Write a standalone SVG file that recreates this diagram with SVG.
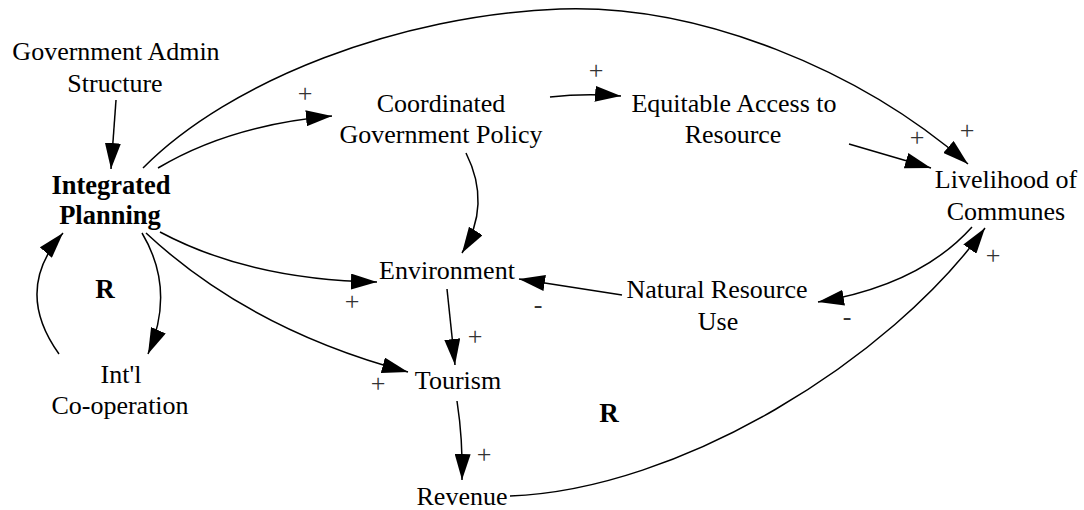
<svg xmlns="http://www.w3.org/2000/svg" width="1084" height="510" viewBox="0 0 1084 510">
<defs>
<marker id="ah" markerUnits="userSpaceOnUse" markerWidth="27" markerHeight="16" refX="26" refY="8" orient="auto" viewBox="0 0 27 16">
<path d="M0,0 L26,8 L0,16 z" fill="#000"/>
</marker>
<style>
.c{fill:none;stroke:#000;stroke-width:1.5;marker-end:url(#ah)}
</style>
</defs>
<rect width="1084" height="510" fill="#fff"/>
<g id="connectors">
<path class="c" d="M116,100 L111,169"/>
<path class="c" d="M158,168 Q230,125 332,116"/>
<path class="c" d="M143,168 C230,80 400,15 560,9 C700,4 860,70 968,164"/>
<path class="c" d="M550,97 Q585,93 621,96"/>
<path class="c" d="M849,144 L931,168"/>
<path class="c" d="M466,153 Q492,205 462,253"/>
<path class="c" d="M160,232 Q250,280 377,282"/>
<path class="c" d="M146,233 Q250,330 408,372"/>
<path class="c" d="M142,233 Q176,290 148,354"/>
<path class="c" d="M59,354 Q13,290 63,233"/>
<path class="c" d="M622,295 L519,279"/>
<path class="c" d="M972,227 Q920,285 818,302"/>
<path class="c" d="M510,496 C680,490 890,360 985,228"/>
<path class="c" d="M447,289 L455,365"/>
<path class="c" d="M457,401 Q463,440 462,480"/>
</g>
<g id="gov-admin"><text x="116" y="60" text-anchor="middle" style="font-family:Liberation Serif,serif !important;font-size:26px">Government Admin</text><text x="115" y="92" text-anchor="middle" style="font-family:Liberation Serif,serif !important;font-size:26px">Structure</text></g>
<g id="integrated-planning"><text x="111" y="194" text-anchor="middle" style="font-family:Liberation Serif,serif !important;font-size:26.5px;font-weight:bold">Integrated</text><text x="110" y="224" text-anchor="middle" style="font-family:Liberation Serif,serif !important;font-size:26.5px;font-weight:bold">Planning</text></g>
<g id="coordinated-policy"><text x="441" y="112" text-anchor="middle" style="font-family:Liberation Serif,serif !important;font-size:26px">Coordinated</text><text x="441" y="143" text-anchor="middle" style="font-family:Liberation Serif,serif !important;font-size:26px">Government Policy</text></g>
<g id="equitable-access"><text x="734" y="112" text-anchor="middle" style="font-family:Liberation Serif,serif !important;font-size:26px">Equitable Access to</text><text x="733" y="143" text-anchor="middle" style="font-family:Liberation Serif,serif !important;font-size:26px">Resource</text></g>
<g id="livelihood"><text x="1006" y="188" text-anchor="middle" style="font-family:Liberation Serif,serif !important;font-size:26px">Livelihood of</text><text x="1006" y="220" text-anchor="middle" style="font-family:Liberation Serif,serif !important;font-size:26px">Communes</text></g>
<g id="environment"><text x="447" y="279" text-anchor="middle" style="font-family:Liberation Serif,serif !important;font-size:26px">Environment</text></g>
<g id="natural-resource"><text x="717" y="298" text-anchor="middle" style="font-family:Liberation Serif,serif !important;font-size:26px">Natural Resource</text><text x="718" y="330" text-anchor="middle" style="font-family:Liberation Serif,serif !important;font-size:26px">Use</text></g>
<g id="tourism"><text x="458" y="389" text-anchor="middle" style="font-family:Liberation Serif,serif !important;font-size:26px">Tourism</text></g>
<g id="revenue"><text x="462" y="505" text-anchor="middle" style="font-family:Liberation Serif,serif !important;font-size:26px">Revenue</text></g>
<g id="intl-cooperation"><text x="121" y="383" text-anchor="middle" style="font-family:Liberation Serif,serif !important;font-size:26px">Int'l</text><text x="120" y="414" text-anchor="middle" style="font-family:Liberation Serif,serif !important;font-size:26px">Co-operation</text></g>
<g id="loops"><text x="105" y="298" text-anchor="middle" style="font-family:Liberation Serif,serif !important;font-size:27px;font-weight:bold">R</text><text x="609" y="422" text-anchor="middle" style="font-family:Liberation Serif,serif !important;font-size:27px;font-weight:bold">R</text></g>
<g id="polarities" fill="#333">
<text x="305" y="102" text-anchor="middle" style="font-family:Liberation Serif,serif !important;font-size:26px">+</text>
<text x="596" y="79" text-anchor="middle" style="font-family:Liberation Serif,serif !important;font-size:26px">+</text>
<text x="917" y="146" text-anchor="middle" style="font-family:Liberation Serif,serif !important;font-size:26px">+</text>
<text x="967" y="139" text-anchor="middle" style="font-family:Liberation Serif,serif !important;font-size:26px">+</text>
<text x="993" y="264" text-anchor="middle" style="font-family:Liberation Serif,serif !important;font-size:26px">+</text>
<text x="352" y="310" text-anchor="middle" style="font-family:Liberation Serif,serif !important;font-size:26px">+</text>
<text x="538" y="313" text-anchor="middle" style="font-family:Liberation Serif,serif !important;font-size:26px">-</text>
<text x="475" y="345" text-anchor="middle" style="font-family:Liberation Serif,serif !important;font-size:26px">+</text>
<text x="378" y="392" text-anchor="middle" style="font-family:Liberation Serif,serif !important;font-size:26px">+</text>
<text x="484" y="463" text-anchor="middle" style="font-family:Liberation Serif,serif !important;font-size:26px">+</text>
<text x="847" y="325" text-anchor="middle" style="font-family:Liberation Serif,serif !important;font-size:26px">-</text>
</g>
</svg>
